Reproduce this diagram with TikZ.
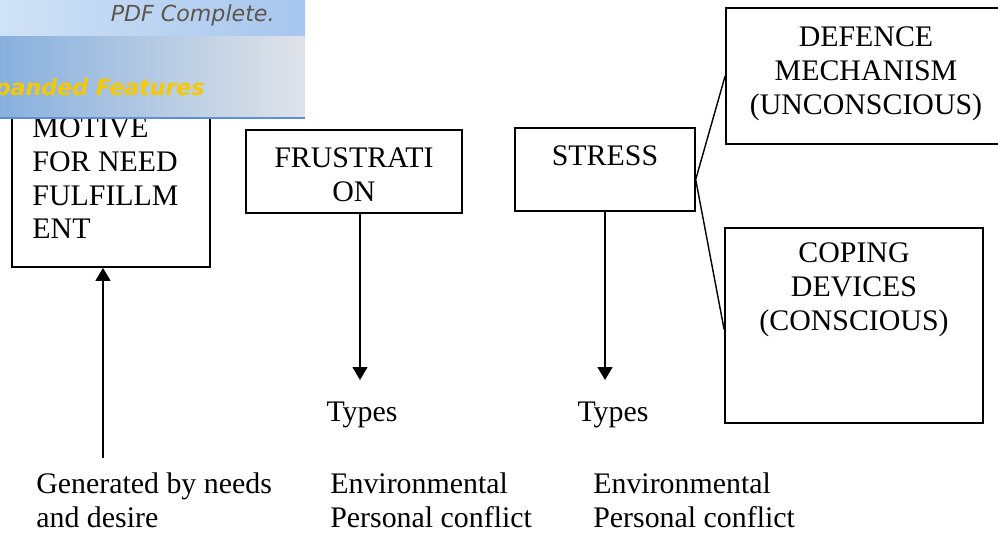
\documentclass[tikz,border=0pt]{standalone}
\usepackage{fontspec}
\setmainfont{Liberation Serif}
\newfontfamily\bannerfont{DejaVu Sans}
\usetikzlibrary{positioning,arrows.meta}
\def\px{0.02cm}
\definecolor{bantopl}{RGB}{208,226,246}
\definecolor{bantopr}{RGB}{166,198,238}
\definecolor{banlowl}{RGB}{136,176,222}
\definecolor{banlowr}{RGB}{223,227,232}
\definecolor{banline}{RGB}{92,143,212}
\definecolor{featyellow}{RGB}{246,200,0}
\definecolor{pdfgray}{RGB}{94,86,77}

\begin{document}
\begin{tikzpicture}[x=\px,y=-\px,
    box/.style={draw,line width=1pt,inner sep=0pt},
    txt/.style={inner sep=0pt,align=center,font=\fontsize{17}{19.3}\selectfont},
    arr/.style={line width=0.8pt,-{Triangle[length=0.26cm,width=0.3cm]}},
    link/.style={line width=0.8pt}]
  \useasboundingbox (0,0) rectangle (998,534);

  \node[box,minimum width=198*\px,minimum height=167*\px] (motive) at (111,183.5) {};
  \node[txt,align=left,anchor=north west,below right=18*\px and 21*\px of motive.north west] (motivetxt)
        {MOTIVE\\FOR NEED\\FULFILLM\\ENT};
  \node[box,minimum width=216*\px,minimum height=83*\px] (frust) at (354,171.5) {};
  \node[txt,below=18*\px of frust.north] (frusttxt) {FRUSTRATI\\ON};
  \node[box,line width=0.8pt,minimum width=180*\px,minimum height=83*\px] (stress) at (605,169.5) {};
  \node[txt,below=18*\px of stress.north] (stresstxt) {STRESS};
  \node[box,minimum width=280*\px,minimum height=136*\px] (defence) at (866,76) {};
  \node[txt,below=19*\px of defence.north] (defencetxt) {DEFENCE\\MECHANISM\\(UNCONSCIOUS)};
  \node[box,minimum width=258*\px,minimum height=195*\px] (coping) at (854,325.5) {};
  \node[txt,below=15*\px of coping.north] (copingtxt) {COPING\\DEVICES\\(CONSCIOUS)};

  \node[txt,anchor=north] (types1) at (362,402) {Types};
  \node[txt,anchor=north] (types2) at (613,402) {Types};
  \node[txt,align=left,anchor=north west] (gen) at (36,472.5) {Generated by needs\\and desire};
  \node[txt,align=left,anchor=north west] (env1) at (330,472.5) {Environmental\\Personal conflict};
  \node[txt,align=left,anchor=north west] (env2) at (593,472.5) {Environmental\\Personal conflict};

  \coordinate (gtail) at (103,458);
  \coordinate (ftip) at (360,380);
  \coordinate (stip) at (605,380);
  \coordinate (sjoin) at ([yshift=-10*\px]stress.east);
  \draw[arr] (gtail) -- (gtail |- motive.south);
  \draw[arr] (ftip |- frust.south) -- (ftip);
  \draw[arr] (stip |- stress.south) -- (stip);
  \draw[link] (sjoin) -- (defence.west);
  \draw[link] (sjoin) -- ([yshift=-4*\px]coping.west);

  \shade[left color=bantopl,right color=bantopr] (0,0) rectangle (305,36);
  \shade[left color=banlowl,right color=banlowr] (0,36) rectangle (305,118);
  \draw[banline,line width=1.2pt] (0,118) -- (305,118);
  \node[anchor=base east,inner sep=0pt,text=pdfgray,font=\bannerfont\itshape\fontsize{12.6}{14}\selectfont] (pdfc) at (275,21) {PDF Complete.};
  \node[anchor=base east,inner sep=0pt,text=featyellow,font=\bannerfont\bfseries\itshape\fontsize{12.6}{14}\selectfont] (feat) at (205,95) {panded Features};
\end{tikzpicture}
\end{document}
